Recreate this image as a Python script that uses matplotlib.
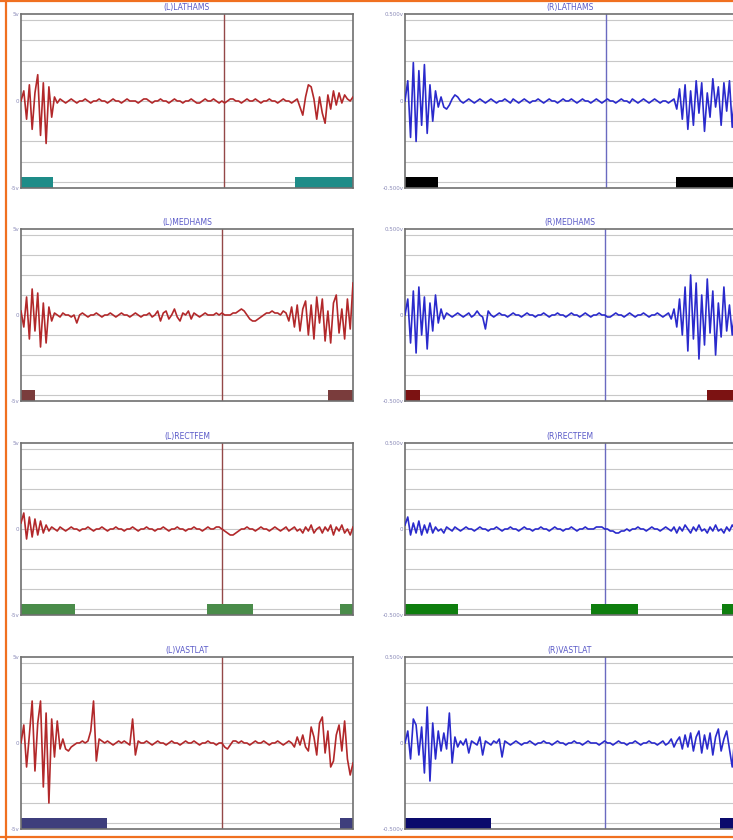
import numpy as np
import matplotlib.pyplot as plt
from matplotlib.lines import Line2D

muscles = ['LATHAMS', 'MEDHAMS', 'RECTFEM', 'VASTLAT']
vlines = [61.0, 60.5, 60.5, 60.5]
left_ylabels = ['5v', '0', '-5v']
right_ylabels = ['0.500v', '0', '-0.500v']

# EMG traces, in tenths of a grid division, even time steps over 0-100 %
lathams_l = [0, 5, -9, 8, -14, 4, 13, -17, 9, -21,
             7, -8, 2, -1, 1, 0, -1, 0, 1, 0,
             -1, 0, 0, 1, 0, -1, 0, 0, 1, 0,
             0, -1, 0, 1, 0, 0, -1, 0, 1, 0,
             0, 0, -1, 0, 1, 1, 0, -1, 0, 0,
             1, 0, 0, -1, 0, 1, 0, 0, -1, 0,
             0, 1, 0, -1, -1, 0, 1, 0, 0, 1,
             0, -1, 0, -1, 0, 1, 1, 0, 0, -1,
             0, 1, 0, 0, 1, 0, -1, 0, 0, 1,
             0, 0, -1, 0, 1, 0, 0, -1, 0, 1,
             -3, -7, 2, 8, 7, 1, -9, 2, -6, -11,
             3, -4, 5, -2, 4, -1, 3, 1, 0, 2]
lathams_r = [0, 10, -18, 19, -20, 15, -12, 18, -16, 8,
             -10, 5, -3, 2, -3, -4, -2, 1, 3, 2,
             0, -1, 0, 1, 0, -1, 0, 1, 0, -1,
             0, 1, 0, -1, 0, 0, 1, 0, -1, 1,
             0, -1, 0, 1, 0, -1, 0, 0, 1, 0,
             -1, 0, 1, 0, 0, -1, 0, 1, 0, 0,
             1, 0, -1, 0, 1, 0, 0, -1, 0, 1,
             0, -1, 0, 1, 0, 0, -1, 0, 1, 0,
             0, -1, 1, 0, -1, 0, 1, 0, -1, 0,
             1, 0, -1, 0, 0, -1, 0, 1, -4, 6,
             -9, 8, -14, 5, -12, 10, -6, 9, -15, 4,
             -8, 11, -3, 7, -12, 9, -5, 10, -13, 6]
medhams_l = [2, -6, 9, -12, 13, -8, 11, -16, 6, -14,
             4, -3, 1, 0, -1, 1, 0, 0, -1, 0,
             -4, 0, 1, 0, -1, 0, 0, 1, 0, -1,
             0, 0, 1, 0, -1, 0, 1, 0, 0, -1,
             0, 1, 0, -1, 0, 0, 1, -1, 0, 2,
             -3, 1, 2, -2, 0, 3, -1, -3, 1, 0,
             2, -2, 1, 0, -1, 0, 1, 0, 0, 0,
             1, 0, 1, 0, 0, 0, 1, 1, 2, 3,
             2, 0, -2, -3, -3, -2, -1, 0, 1, 1,
             2, 1, 1, 0, 2, 1, -3, 4, -6, 5,
             -8, 3, 7, -10, 5, -12, 9, -4, 8, -13,
             2, -14, 6, 10, -9, 3, -12, 8, -7, 16]
medhams_r = [0, 8, -14, 12, -19, 14, -10, 9, -17, 6,
             -8, 10, -4, 3, -2, 1, 0, -1, 0, 1,
             0, -1, 0, 1, -1, 0, 2, 0, -1, -7,
             2, 0, -1, 0, 1, 0, 0, -1, 0, 1,
             0, 0, -1, 0, 1, 0, 0, -1, 0, 0,
             1, 0, -1, 0, 0, 1, 0, 0, -1, 0,
             1, 0, 0, -1, 0, 1, 0, -1, 0, 0,
             1, 0, 0, -1, -1, 0, 1, 0, 0, -1,
             0, 1, 0, -1, 0, 0, 1, 0, -1, 0,
             0, 1, 0, -1, 0, 1, -2, 3, -6, 8,
             -10, 14, -18, 20, -12, 16, -22, 10, -15, 18,
             -9, 12, -20, 6, -11, 14, -8, 5, -10, 4]
rectfem_l = [3, 8, -5, 6, -4, 5, -3, 4, -2, 2,
             -1, 1, 0, -1, 1, 0, -1, 0, 1, 0,
             0, -1, 0, 0, 1, 0, -1, 0, 0, 1,
             0, -1, 0, 0, 1, 0, 0, -1, 0, 0,
             1, 0, -1, 0, 0, 1, 0, 0, -1, 0,
             0, 1, 0, -1, 0, 0, 1, 0, 0, -1,
             0, 0, 1, 0, 0, -1, 0, 1, 0, 0,
             1, 1, 0, -1, -2, -3, -3, -2, -1, 0,
             0, 1, 0, 0, -1, 0, 1, 0, 0, -1,
             0, 1, 0, -1, 0, 1, -1, 0, 1, -1,
             0, -2, 1, -1, 2, -2, 0, 1, -2, 1,
             -1, 2, -3, 1, -1, 2, -2, 0, -3, 1]
rectfem_r = [2, 6, -3, 3, -2, 4, -3, 2, -2, 3,
             -2, 1, -1, 0, -2, 1, 0, -1, 1, 0,
             -1, 0, 1, 0, 0, -1, 0, 1, 0, 0,
             -1, 0, 0, 1, 0, -1, 0, 0, 1, 0,
             0, -1, 0, 1, 0, 0, -1, 0, 0, 1,
             0, 0, -1, 0, 1, 0, 0, -1, 0, 0,
             1, 0, -1, 0, 0, 1, 0, 0, 0, 1,
             1, 1, 0, 0, -1, -1, -2, -2, -1, -1,
             0, -1, 0, 0, 1, 0, 0, -1, 0, 1,
             0, 0, -1, 0, 1, 0, -1, 1, -2, 1,
             -1, 2, 0, -2, 1, -1, 2, -1, 0, -2,
             1, -1, 2, -1, 0, -2, 1, -1, 2, 0]
vastlat_l = [0, 9, -12, 4, 21, -14, 10, 21, -22, 15,
             -30, 12, -7, 11, -3, 2, -3, -4, -2, -1,
             0, 0, 1, 0, 1, 6, 21, -9, 2, 1,
             0, 1, 0, -1, 0, 1, 0, 1, 0, -1,
             12, -6, 1, 0, 0, 1, 0, -1, 0, 1,
             0, 0, -1, 0, 1, 0, 0, -1, 0, 1,
             0, 0, 1, 0, -1, 0, 0, 1, 0, 0,
             -1, 0, 0, -2, -3, -1, 1, 1, 0, 1,
             0, 0, -1, 0, 1, 0, 0, 1, 0, -1,
             0, 0, 1, 0, -1, 0, 1, 0, -2, 3,
             -1, 4, -2, -4, 8, 3, -6, 10, 13, -5,
             6, -12, -9, 4, 9, -4, 11, -8, -16, -10]
vastlat_r = [0, 6, -8, 12, 9, -6, 8, -15, 18, -19,
             10, -8, 6, -4, 5, -3, 15, -10, 3, -2,
             1, -1, 2, -5, 1, 0, -1, 3, -6, 1,
             0, -1, 1, 0, 2, -7, 1, 0, -1, 0,
             1, 0, -1, 0, 0, 1, 0, -1, 0, 0,
             1, 0, 0, -1, 0, 1, 0, 0, -1, 0,
             0, 1, 0, 0, -1, 0, 1, 0, 0, 0,
             -1, 0, 1, 0, 0, -1, 0, 1, 0, 0,
             -1, 0, 0, 1, 0, -1, 0, 0, 1, 0,
             0, -1, 0, 1, -1, 0, 2, -2, 1, 3,
             -3, 4, -2, 5, -4, 3, 6, -5, 4, -3,
             5, -6, 3, 7, -4, 2, 6, -3, -12, 4]

# activity windows (start, end) in % of cycle
bars_l = [[(0, 9.6), (82.5, 100)],
          [(0, 4.2), (92.5, 100)],
          [(0, 16.3), (56, 70), (96, 100)],
          [(0, 26), (96, 100)]]
bars_r = [[(0, 10), (82, 100)],
          [(0, 4.5), (91.5, 100)],
          [(0, 16), (56.5, 70.5), (96, 100)],
          [(0, 26), (95.5, 100)]]

traces_l = [lathams_l, medhams_l, rectfem_l, vastlat_l]
traces_r = [lathams_r, medhams_r, rectfem_r, vastlat_r]
barcol_l = ['#1e8c88', '#7a3c3c', '#4a8c4a', '#3e3e7c']
barcol_r = ['#000000', '#7c1212', '#0e7e0e', '#0a0a6c']

W, H = 733, 840
fig = plt.figure(figsize=(W / 100, H / 100), dpi=100)

def px(left, top, w, h):
    return [left / W, 1 - (top + h) / H, w / W, h / H]

tops = [14, 229, 443, 657]
heights = [174, 172, 172, 172]

def panel(rect, y, bars, barcol, trace_col, vcol, title, ylabels, vline):
    ax = fig.add_axes(rect)
    x = np.linspace(0, 100, len(y))
    for k in range(-4, 5):
        ax.axhline(k * 10, color='#c8c8c8', lw=0.8, zorder=0)
    ax.axvline(vline, color=vcol, lw=1.0, zorder=1)
    ax.broken_barh([(s, e - s) for s, e in bars], (-43, 5.4),
                   facecolors=barcol, zorder=2)
    ax.plot(x, y, color=trace_col, lw=1.2, zorder=3)
    ax.set_xlim(0, 100)
    ax.set_ylim(-43, 43)
    ax.set_xticks([])
    ax.set_yticks([43, 0, -43])
    ax.set_yticklabels(ylabels, fontsize=4, color='#8a8ab8')
    ax.tick_params(axis='y', length=0, pad=1)
    for s in ax.spines.values():
        s.set_color('#707070')
        s.set_linewidth(1.2)
    ax.set_title(title, fontsize=5.5, color='#5a5ac8', pad=3)
    return ax

for i in range(4):
    panel(px(21, tops[i], 332, heights[i]), traces_l[i],
          bars_l[i], barcol_l[i], '#b2282a', '#944848',
          '(L)' + muscles[i], left_ylabels, vlines[i])
    panel(px(405, tops[i], 330, heights[i]), traces_r[i],
          bars_r[i], barcol_r[i], '#2a2acc', '#6a6ac0',
          '(R)' + muscles[i], right_ylabels, vlines[i])

# orange frame of the page
fig.add_artist(Line2D([6 / W, 6 / W], [0, 1], color='#f07020', lw=1.6))
fig.add_artist(Line2D([0, 1], [1 - 1 / H, 1 - 1 / H], color='#f07020', lw=1.6))
fig.add_artist(Line2D([0, 1], [3 / H, 3 / H], color='#f07020', lw=1.6))

fig.savefig('out.png', dpi=100)
